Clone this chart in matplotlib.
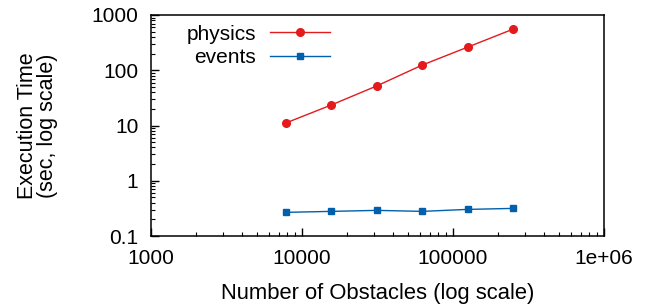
import matplotlib
matplotlib.use("Agg")
import matplotlib.pyplot as plt
from matplotlib.ticker import LogLocator, FixedLocator, FixedFormatter, NullFormatter

obstacles = [7812.5, 15625, 31250, 62500, 125000, 250000]
physics = [11.1, 23.5, 52.0, 124, 262, 555]
events = [0.268, 0.279, 0.291, 0.279, 0.303, 0.316]

xticks = [1000, 10000, 100000, 1000000]
xticklabels = ["1000", "10000", "100000", "1e+06"]
yticks = [0.1, 1, 10, 100, 1000]
yticklabels = ["0.1", "1", "10", "100", "1000"]

plt.rcParams['font.family'] = ['Liberation Sans', 'DejaVu Sans']
FS = 15

fig = plt.figure(figsize=(6.51, 3.05), dpi=100)
ax = fig.add_axes([151/651, 1-236/305, (604-151)/651, (236-15)/305])

ax.plot(obstacles, physics, color='#e41a1c', lw=1.0, marker='o', ms=5.5, label='physics')
ax.plot(obstacles, events, color='#0060ad', lw=1.0, marker='s', ms=5, label='events')

ax.set_xscale('log')
ax.set_yscale('log')
ax.set_xlim(1000, 1e6)
ax.set_ylim(0.1, 1000)

ax.xaxis.set_major_locator(FixedLocator(xticks))
ax.xaxis.set_major_formatter(FixedFormatter(xticklabels))
ax.yaxis.set_major_locator(FixedLocator(yticks))
ax.yaxis.set_major_formatter(FixedFormatter(yticklabels))
ax.xaxis.set_minor_locator(LogLocator(base=10, subs=range(2, 10)))
ax.yaxis.set_minor_locator(LogLocator(base=10, subs=range(2, 10)))
ax.xaxis.set_minor_formatter(NullFormatter())
ax.yaxis.set_minor_formatter(NullFormatter())

ax.tick_params(which='both', direction='in', top=False, right=False, labelsize=FS, colors='black')
ax.tick_params(which='major', length=6, width=1, pad=9)
ax.tick_params(which='minor', length=3, width=0.8)
for s in ax.spines.values():
    s.set_linewidth(1.1)

ax.set_xlabel('Number of Obstacles (log scale)', fontsize=15.8)
ax.xaxis.set_label_coords(0.5, -0.214)
ax.set_ylabel('Execution Time\n(sec, log scale)', fontsize=15.5, linespacing=0.95)
ax.yaxis.set_label_coords(-0.205, 0.5)

leg = ax.legend(loc='upper right', markerfirst=False, frameon=False, fontsize=FS,
                handlelength=2.9, handletextpad=0.65, labelspacing=0.22,
                borderpad=0, borderaxespad=0, bbox_to_anchor=(0.395, 0.956))

fig.savefig('out.png', dpi=100)
